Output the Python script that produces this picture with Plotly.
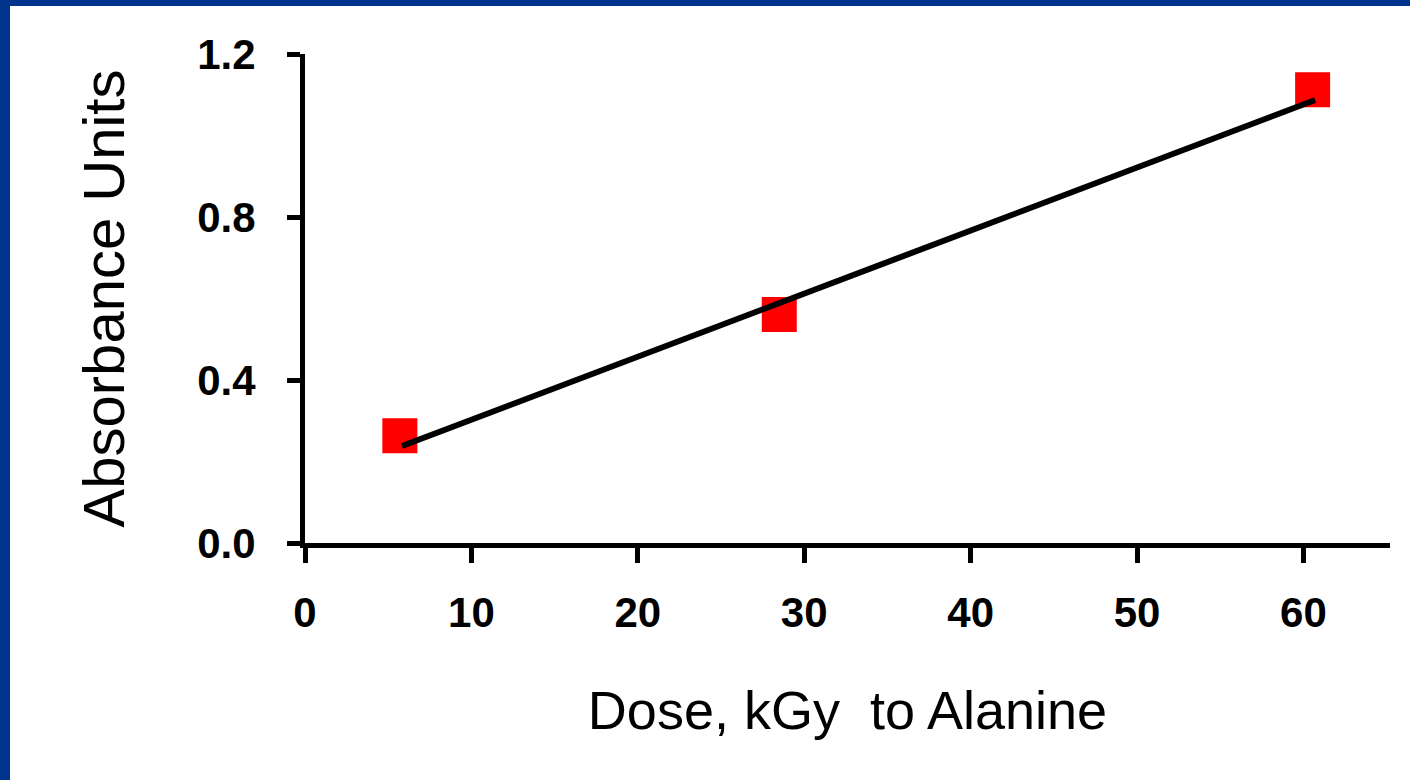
import plotly.graph_objects as go

# Data
dose = [5.7, 28.5, 60.55]
absorbance = [0.263, 0.561, 1.112]

# Linear fit line endpoints (as drawn)
fit_x = [5.83, 60.7]
fit_y = [0.238, 1.087]

x_ticks = [0, 10, 20, 30, 40, 50, 60]
x_ticktext = ["0", "10", "20", "30", "40", "50", "60"]
y_ticks = [0.0, 0.4, 0.8, 1.2]
y_ticktext = ["0.0", "0.4", "0.8", "1.2"]

x_title = "Dose, kGy  to Alanine"
y_title = "Absorbance Units"

FONT = "Arial, 'Liberation Sans', sans-serif"
W, H = 1410, 780
ML, MR, MT, MB = 305, 20, 54, 237
PW = W - ML - MR
PH = H - MT - MB

fig = go.Figure()
fig.add_trace(go.Scatter(
    x=dose, y=absorbance, mode="markers",
    marker=dict(symbol="square", size=35, color="#FF0000", line=dict(width=0)),
    showlegend=False, hoverinfo="x+y"))
fig.add_trace(go.Scatter(
    x=fit_x, y=fit_y, mode="lines",
    line=dict(color="black", width=6),
    showlegend=False))

# blue frame on top and left edges
BLUE = "#00338C"
fig.add_shape(type="rect", xref="paper", yref="paper",
              x0=(0 - ML) / PW, x1=(W - ML) / PW,
              y0=1 + (MT - 6) / PH, y1=1 + (MT + 2) / PH,
              fillcolor=BLUE, line=dict(width=0), layer="below")
fig.add_shape(type="rect", xref="paper", yref="paper",
              x0=(0 - ML - 2) / PW, x1=(10 - ML) / PW,
              y0=-(MB + 2) / PH, y1=1 + (MT + 2) / PH,
              fillcolor=BLUE, line=dict(width=0), layer="below")

fig.update_layout(
    width=W, height=H,
    margin=dict(l=ML, r=MR, t=MT, b=MB, pad=0),
    paper_bgcolor="white", plot_bgcolor="white",
    font=dict(family=FONT, color="black"),
    xaxis=dict(
        range=[0, 65.2], tickvals=x_ticks, ticktext=x_ticktext,
        showgrid=False, zeroline=False, showline=True, linecolor="black", linewidth=5,
        ticks="outside", ticklen=15, tickwidth=5, tickcolor="black",
        tickfont=dict(family=FONT, size=42, color="black", weight="bold"),
        ticklabelstandoff=14,
        title=dict(text=x_title, font=dict(family=FONT, size=54, color="black"), standoff=57),
    ),
    yaxis=dict(
        range=[0, 1.2], tickvals=y_ticks, ticktext=y_ticktext,
        showgrid=False, zeroline=False, showline=True, linecolor="black", linewidth=5,
        ticks="outside", ticklen=13, tickwidth=5, tickcolor="black",
        tickfont=dict(family=FONT, size=42, color="black", weight="bold"),
        ticklabelstandoff=23,
        title=dict(text=y_title, font=dict(family=FONT, size=58, color="black"), standoff=55),
    ),
)

fig.write_html("out.html", config={"displayModeBar": False},
               post_script="document.body.style.margin='0';")
